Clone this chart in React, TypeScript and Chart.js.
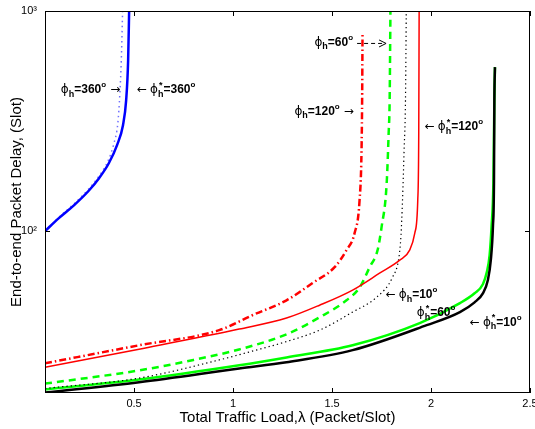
import { useEffect, useRef } from 'react';
import { Chart, registerables } from 'chart.js';
Chart.register(...registerables);

const xTicks = [0.5, 1, 1.5, 2, 2.5];
const yTicks = [100, 1000];
const xMin = 0.05;
const xMax = 2.5;
const yMin = 18.4;
const yMax = 1000;

// phi*_h = 360 (blue solid)
const blueSolidX = [0.05, 0.12, 0.196, 0.272, 0.323, 0.373, 0.414, 0.444, 0.46, 0.47, 0.475];
const blueSolidY = [100, 114.6, 131, 153, 174, 204, 246, 303, 394, 598, 1000];
// phi_h = 360 (blue dotted)
const blueDotX = [0.05, 0.12, 0.196, 0.272, 0.323, 0.368, 0.398, 0.418, 0.428, 0.436, 0.442];
const blueDotY = [100, 115.5, 133, 156, 178, 208, 250, 310, 420, 620, 1000];
// phi_h = 120 (red dash-dot)
const redDashDotX = [0.05, 0.525, 0.93, 1.097, 1.27, 1.4, 1.513, 1.573, 1.614, 1.639, 1.649, 1.652, 1.654];
const redDashDotY = [25.1, 30.3, 35.5, 41.5, 48.5, 58, 68.6, 82, 98, 138, 233, 394, 790];
// phi*_h = 120 (red solid)
const redSolidX = [0.05, 0.525, 1.031, 1.27, 1.437, 1.604, 1.74, 1.842, 1.892, 1.918, 1.933, 1.938, 1.94];
const redSolidY = [24.1, 29.1, 35.9, 40.3, 46.1, 54, 64.4, 73.8, 82, 98, 138, 279, 1000];
// phi_h = 60 (green dashed)
const greenDashX = [0.05, 0.525, 0.8, 1.03, 1.27, 1.437, 1.573, 1.64, 1.69, 1.73, 1.75, 1.776, 1.786, 1.791, 1.795];
const greenDashY = [20.3, 23.3, 26, 29, 34, 40.6, 48.5, 55.6, 68.6, 82, 104, 165, 279, 394, 1000];
// phi_h = 10 (black dotted)
const blackDotX = [0.05, 0.525, 0.93, 1.097, 1.27, 1.437, 1.604, 1.725, 1.806, 1.838, 1.848, 1.856, 1.864, 1.871, 1.875];
const blackDotY = [19.3, 21.5, 26.0, 28.5, 31.5, 35.5, 42.9, 50.1, 61.8, 76.2, 95, 138, 233, 394, 1000];
// phi*_h = 60 (green solid)
const greenSolidX = [0.05, 0.525, 1.031, 1.27, 1.604, 1.943, 2.146, 2.22, 2.262, 2.282, 2.296, 2.306, 2.315, 2.32, 2.323];
const greenSolidY = [19.1, 21.2, 24.6, 26.7, 30.3, 38.2, 47.1, 52.2, 57.4, 65.2, 77.8, 106, 165, 394, 556];
// phi*_h = 10 (black solid)
const blackSolidX = [0.05, 0.525, 1.031, 1.27, 1.604, 1.978, 2.146, 2.22, 2.262, 2.287, 2.302, 2.313, 2.318, 2.32, 2.323];
const blackSolidY = [18.5, 20.6, 23.8, 25.4, 28.8, 37.4, 42.9, 47.5, 52.2, 59.8, 73.8, 106, 165, 394, 556];

// annotations
const labelX = [0.13, 0.515, 1.411, 1.31, 1.968, 1.771, 1.928, 2.196];
const labelY = [437, 437, 716, 348, 297, 51.2, 42.4, 38.5];
const labelValue = ['=360', '=360', '=60', '=120', '=120', '=10', '=60', '=10'];
const labelStar = [false, true, false, false, true, false, true, true];
const labelPre = [false, true, false, false, true, true, false, true];
const labelPost = ['solid', '', 'dashed', 'solid', '', '', '', ''];

const FONT = 'Arial, "Liberation Sans", Helvetica, sans-serif';

function pts(xs: number[], ys: number[]) {
  return xs.map((x, i) => ({ x, y: ys[i] }));
}

const framePlugin = {
  id: 'frame',
  afterDraw(chart: any) {
    const { ctx, chartArea: a, scales } = chart;
    const xs = scales.x;
    const ys = scales.y;
    ctx.save();
    ctx.strokeStyle = '#000';
    ctx.lineWidth = 1;
    ctx.strokeRect(a.left + 0.5, a.top + 0.5, a.right - a.left - 1, a.bottom - a.top - 1);
    ctx.beginPath();
    xTicks.forEach((v) => {
      const px = Math.round(xs.getPixelForValue(v)) + 0.5;
      ctx.moveTo(px, a.bottom);
      ctx.lineTo(px, a.bottom - 5);
      ctx.moveTo(px, a.top);
      ctx.lineTo(px, a.top + 5);
    });
    yTicks.forEach((v) => {
      const py = Math.round(ys.getPixelForValue(v)) + 0.5;
      ctx.moveTo(a.left, py);
      ctx.lineTo(a.left + 5, py);
      ctx.moveTo(a.right, py);
      ctx.lineTo(a.right - 5, py);
    });
    ctx.stroke();

    // annotations
    ctx.fillStyle = '#000';
    ctx.textBaseline = 'middle';
    ctx.textAlign = 'left';
    labelX.forEach((lx, i) => {
      let cx = xs.getPixelForValue(lx);
      const cy = ys.getPixelForValue(labelY[i]);
      if (labelPre[i]) {
        ctx.font = '12px "DejaVu Sans", ' + FONT;
        ctx.fillText('←', cx, cy);
        cx += ctx.measureText('←').width + 3;
      }
      ctx.font = '12px "DejaVu Sans", ' + FONT;
      ctx.fillText('ϕ', cx, cy);
      cx += ctx.measureText('ϕ').width;
      ctx.font = 'bold 9px ' + FONT;
      if (labelStar[i]) {
        ctx.fillText('*', cx + 1, cy - 5);
      }
      ctx.fillText('h', cx, cy + 4);
      cx += ctx.measureText('h').width;
      ctx.font = 'bold 12px ' + FONT;
      ctx.fillText(labelValue[i], cx, cy);
      cx += ctx.measureText(labelValue[i]).width;
      ctx.font = 'bold 8px ' + FONT;
      ctx.fillText('o', cx, cy - 5);
      cx += ctx.measureText('o').width + 4;
      if (labelPost[i] === 'solid') {
        ctx.font = '12px "DejaVu Sans", ' + FONT;
        ctx.fillText('→', cx, cy);
      } else if (labelPost[i] === 'dashed') {
        ctx.lineWidth = 1;
        ctx.setLineDash([4, 3]);
        ctx.beginPath();
        ctx.moveTo(cx, cy + 0.5);
        ctx.lineTo(cx + 26, cy + 0.5);
        ctx.stroke();
        ctx.setLineDash([]);
        ctx.beginPath();
        ctx.moveTo(cx + 22, cy - 3);
        ctx.lineTo(cx + 29, cy + 0.5);
        ctx.lineTo(cx + 22, cy + 4);
        ctx.stroke();
      }
    });
    ctx.restore();
  },
};

export default function App() {
  const ref = useRef<HTMLCanvasElement>(null);
  useEffect(() => {
    if (!ref.current) return;
    const ds = (data: any, color: string, width: number, dash: number[]) => ({
      data,
      borderColor: color,
      backgroundColor: color,
      borderWidth: width,
      borderDash: dash,
      pointRadius: 0,
      fill: false,
      cubicInterpolationMode: 'monotone' as const,
    });
    const chart = new Chart(ref.current, {
      type: 'line',
      data: {
        datasets: [
          ds(pts(blueSolidX, blueSolidY), '#0000ff', 2.5, []),
          ds(pts(blueDotX, blueDotY), '#6f6fff', 1.5, [1.5, 3.5]),
          ds(pts(redDashDotX, redDashDotY), '#ff0000', 2.5, [7, 3, 1.5, 3]),
          ds(pts(redSolidX, redSolidY), '#ff0000', 1.5, []),
          ds(pts(greenDashX, greenDashY), '#00ff00', 2.5, [7, 5]),
          ds(pts(blackDotX, blackDotY), '#000000', 1.2, [1.3, 3]),
          ds(pts(blackSolidX, blackSolidY), '#000000', 2.5, []),
          ds(pts(greenSolidX, greenSolidY), '#00ff00', 2.5, []),
        ],
      },
      options: {
        animation: false,
        responsive: false,
        layout: { padding: { top: 11, right: 5, left: 0, bottom: 0 } },
        plugins: { legend: { display: false }, tooltip: { enabled: false } },
        scales: {
          x: {
            type: 'linear',
            min: xMin,
            max: xMax,
            grid: { display: false, drawTicks: false, tickLength: 0 },
            border: { display: false },
            afterBuildTicks: (axis: any) => {
              axis.ticks = xTicks.map((v) => ({ value: v }));
            },
            afterFit: (axis: any) => {
              axis.height = 36;
              axis.paddingLeft = 0;
              axis.paddingRight = 0;
            },
            ticks: {
              autoSkip: false,
              maxRotation: 0,
              padding: 4,
              color: '#000',
              font: { family: FONT, size: 11 },
              callback: (v: any) => String(v),
            },
            title: {
              display: true,
              text: 'Total Traffic Load,λ (Packet/Slot)',
              color: '#000',
              font: { family: FONT, size: 15 },
              padding: { top: 0, bottom: 2 },
            },
          },
          y: {
            type: 'logarithmic',
            min: yMin,
            max: yMax,
            grid: { display: false, drawTicks: false, tickLength: 0 },
            border: { display: false },
            afterBuildTicks: (axis: any) => {
              axis.ticks = yTicks.map((v) => ({ value: v }));
            },
            afterFit: (axis: any) => {
              axis.width = 45;
              axis.paddingTop = 0;
              axis.paddingBottom = 0;
            },
            ticks: {
              autoSkip: false,
              padding: 8,
              color: '#000',
              font: { family: FONT, size: 11 },
              callback: (v: any) => (v === 100 ? '10²' : v === 1000 ? '10³' : ''),
            },
            title: {
              display: true,
              text: 'End-to-end Packet Delay, (Slot)',
              color: '#000',
              font: { family: FONT, size: 15 },
              padding: { top: 8, bottom: 0 },
            },
          },
        },
      },
      plugins: [framePlugin],
    });
    return () => chart.destroy();
  }, []);
  return (
    <div style={{ position: 'absolute', left: 0, top: 0, width: 535, height: 429, background: '#fff' }}>
      <canvas ref={ref} width={535} height={429} style={{ display: 'block' }} />
    </div>
  );
}
